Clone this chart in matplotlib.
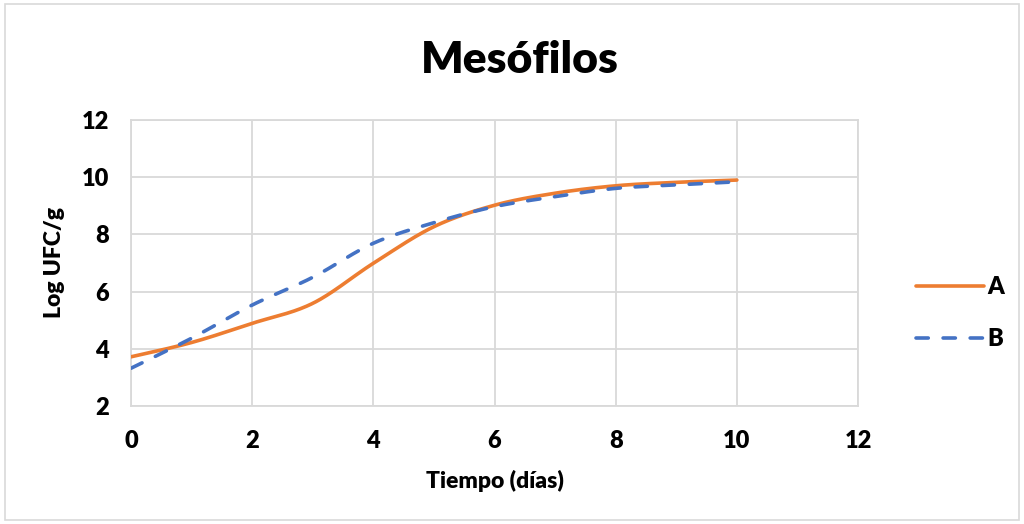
import numpy as np
import matplotlib
matplotlib.use("Agg")
import matplotlib.pyplot as plt
from matplotlib.patches import Rectangle

# Growth of mesophilic bacteria over time (log CFU/g)
dias = [0, 1, 2, 3, 4, 5, 6, 7, 8, 9, 10]
serie_a = [3.72, 4.22, 4.89, 5.59, 6.99, 8.27, 9.02, 9.44, 9.70, 9.82, 9.90]
serie_b = [3.32, 4.37, 5.53, 6.50, 7.69, 8.41, 8.97, 9.32, 9.61, 9.73, 9.84]
nombres = ["A", "B"]
x_ticks = [0, 2, 4, 6, 8, 10, 12]
y_ticks = [2, 4, 6, 8, 10, 12]

COLOR_A = "#ED7D31"
COLOR_B = "#4472C4"
GRID = "#D9D9D9"
FONT = ["Lato", "DejaVu Sans"]
WEIGHT = "heavy"


def smooth(xs, ys, n=40):
    """Smoothed line through the points (cubic Bezier, Catmull-Rom tangents)."""
    xs = np.asarray(xs, float)
    ys = np.asarray(ys, float)
    px = np.concatenate([[xs[0]], xs, [xs[-1]]])
    py = np.concatenate([[ys[0]], ys, [ys[-1]]])
    outx, outy = [], []
    t = np.linspace(0, 1, n)
    for i in range(1, len(px) - 2):
        p0 = np.array([px[i], py[i]])
        p3 = np.array([px[i + 1], py[i + 1]])
        c1 = p0 + (np.array([px[i + 1], py[i + 1]]) - np.array([px[i - 1], py[i - 1]])) / 6
        c2 = p3 - (np.array([px[i + 2], py[i + 2]]) - np.array([px[i], py[i]])) / 6
        b = ((1 - t) ** 3)[:, None] * p0 + (3 * (1 - t) ** 2 * t)[:, None] * c1 \
            + (3 * (1 - t) * t ** 2)[:, None] * c2 + (t ** 3)[:, None] * p3
        outx.extend(b[:, 0])
        outy.extend(b[:, 1])
    return np.array(outx), np.array(outy)


plt.rcParams["font.family"] = FONT
fig = plt.figure(figsize=(10.24, 5.24), dpi=100)
ax = fig.add_axes([131 / 1024, 1 - 406 / 524, (858 - 131) / 1024, (406 - 120) / 524])

xa, ya = smooth(dias, serie_a)
xb, yb = smooth(dias, serie_b)
la, = ax.plot(xa, ya, color=COLOR_A, lw=2.6, solid_capstyle="round", zorder=3)
lb, = ax.plot(xb, yb, color=COLOR_B, lw=2.6, dashes=(3.4, 4.1),
              dash_capstyle="round", zorder=4)

ax.set_xlim(0, 12)
ax.set_ylim(2, 12)
ax.set_xticks(x_ticks)
ax.set_yticks(y_ticks)
ax.grid(True, color=GRID, lw=1.3)
ax.set_axisbelow(True)
for s in ax.spines.values():
    s.set_color(GRID)
    s.set_linewidth(1.3)
ax.tick_params(length=0, labelsize=17, pad=0)
ax.tick_params(axis="y", pad=16)
ax.tick_params(axis="x", pad=17)
for lab in ax.get_xticklabels() + ax.get_yticklabels():
    lab.set_fontweight(WEIGHT)

ax.set_xlabel("Tiempo (días)", fontsize=16.5, fontweight=WEIGHT, labelpad=13)
ax.set_ylabel("Log UFC/g", fontsize=16.5, fontweight=WEIGHT, labelpad=12)
fig.text(0.508, 0.885, "Mesófilos", ha="center", va="center",
         fontsize=32, fontweight=WEIGHT)

leg = ax.legend([la, lb], nombres, loc="center left",
                bbox_to_anchor=(1.05, 0.325), frameon=False,
                prop={"size": 17, "weight": WEIGHT},
                handlelength=2.9, handletextpad=0.15, labelspacing=1.25)

# Outer chart border
fig.patches.append(Rectangle((5 / 1024, 4 / 524), 1 - 10 / 1024, 1 - 8 / 524,
                             transform=fig.transFigure, fill=False,
                             edgecolor=GRID, lw=1.2))

fig.savefig("out.png", dpi=100)
